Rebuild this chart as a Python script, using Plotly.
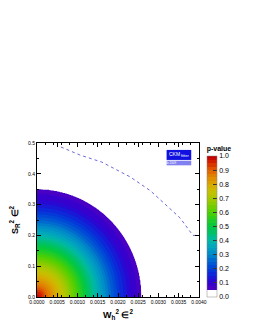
import numpy as np
import plotly.graph_objects as go

# Contour: quarter-ellipse p-value region (semi-axes)
x_semi = 0.00258
y_semi = 0.35
r_levels = [0.0, 0.05, 0.1, 0.2, 0.3, 0.4, 0.5, 0.6, 0.7, 0.8, 0.9, 1.0, 1.005]
p_levels = [1.0, 0.95, 0.88, 0.78, 0.68, 0.57, 0.46, 0.36, 0.26, 0.17, 0.10, 0.055, 0.0]

# dotted boundary curve
curve_x = [0.00059, 0.00106, 0.00160, 0.00205, 0.00230, 0.00280, 0.00333, 0.00353, 0.00385, 0.00400]
curve_y = [0.487, 0.461, 0.438, 0.406, 0.390, 0.345, 0.282, 0.257, 0.200, 0.200]

x_ticks = [0.0, 0.0005, 0.0010, 0.0015, 0.0020, 0.0025, 0.0030, 0.0035, 0.0040]
y_ticks = [0.0, 0.1, 0.2, 0.3, 0.4, 0.5]
cb_ticks = [0.0, 0.1, 0.2, 0.3, 0.4, 0.5, 0.6, 0.7, 0.8, 0.9, 1.0]

gx = np.linspace(0, 0.004, 241)
gy = np.linspace(0, 0.5, 241)
XX, YY = np.meshgrid(gx, gy)
R = np.sqrt((XX / x_semi) ** 2 + (YY / y_semi) ** 2)
Z = np.interp(R, r_levels, p_levels)

colorscale = [
    [0.0, "#ffffff"], [0.049, "#ffffff"],
    [0.05, "#5000c0"], [0.1, "#3000d0"], [0.15, "#1020d8"], [0.2, "#0040d8"],
    [0.25, "#0060d0"], [0.3, "#0088c8"], [0.35, "#00a0c0"], [0.4, "#00b8a8"],
    [0.45, "#00c070"], [0.5, "#00c840"], [0.6, "#50d000"], [0.7, "#a8c800"],
    [0.75, "#c8c000"], [0.8, "#d8a800"], [0.85, "#e08800"], [0.9, "#e06000"],
    [0.95, "#d82800"], [1.0, "#c00000"],
]

FONT = "Liberation Sans"

fig = go.Figure()
fig.add_trace(go.Contour(
    x=gx, y=gy, z=Z, zmin=0, zmax=1,
    colorscale=colorscale,
    contours=dict(start=0.0, end=1.0, size=0.025, coloring="fill", showlines=False),
    line=dict(width=0),
    colorbar=dict(
        title=dict(text="<b>p-value</b>", side="top", font=dict(size=7, family=FONT, color="black")),
        tickvals=cb_ticks, ticktext=[f"{v:.1f}" for v in cb_ticks],
        tickfont=dict(size=7, family=FONT, color="black"),
        x=1.049, xanchor="left", xref="paper",
        y=0, yanchor="bottom", len=1.0, lenmode="fraction",
        thickness=10, outlinewidth=0.5, outlinecolor="#888",
        ticks="inside", ticklen=4, tickcolor="#333", xpad=0, ypad=0,
    ),
    hoverinfo="skip",
))
fig.add_trace(go.Scatter(
    x=curve_x, y=curve_y, mode="lines",
    line=dict(color="#6a6ad8", width=1, dash="dot"), showlegend=False,
))

axis_common = dict(
    showgrid=False, zeroline=False, showline=True, linecolor="black", linewidth=1,
    mirror="ticks", ticks="inside", ticklen=4, tickcolor="black",
    tickfont=dict(size=5, family=FONT, color="black"),
    minor=dict(ticks="inside", ticklen=2, tickcolor="black", nticks=5),
)
fig.update_xaxes(range=[0, 0.004], tickvals=x_ticks, ticktext=[f"{v:.4f}" for v in x_ticks],
                 title=dict(text="<b>W<sub>h</sub><sup>2</sup> ∈<sup>2</sup></b>",
                            font=dict(size=9, family=FONT, color="black"), standoff=7),
                 **axis_common)
fig.update_yaxes(range=[0, 0.5], tickvals=y_ticks, ticktext=[f"{v:.1f}" for v in y_ticks],
                 title=dict(text="<b>S<sub>R</sub><sup>2</sup> ∈<sup>2</sup></b>",
                            font=dict(size=9, family=FONT, color="black"), standoff=9),
                 **axis_common)

# CKMfitter logo approximation
fig.add_shape(type="rect", xref="paper", yref="paper", x0=0.80, x1=0.952, y0=0.89, y1=0.955,
              fillcolor="#1010e0", line=dict(width=0))
fig.add_shape(type="rect", xref="paper", yref="paper", x0=0.80, x1=0.952, y0=0.855, y1=0.885,
              fillcolor="#8080f0", line=dict(width=0))
fig.add_annotation(xref="paper", yref="paper", x=0.805, y=0.958, text="CKM", showarrow=False,
                   font=dict(size=5, color="white", family=FONT), xanchor="left", yanchor="top")
fig.add_annotation(xref="paper", yref="paper", x=0.95, y=0.888, text="fitter", showarrow=False,
                   font=dict(size=4, color="white", family=FONT), xanchor="right", yanchor="bottom")
fig.add_annotation(xref="paper", yref="paper", x=0.876, y=0.870, text="LHCb 2009", showarrow=False,
                   font=dict(size=3, color="white", family=FONT), yanchor="middle")

fig.update_layout(
    width=245, height=319,
    margin=dict(l=29, r=54, t=135, b=30, autoexpand=False),
    paper_bgcolor="white", plot_bgcolor="white",
    font=dict(family=FONT, color="black"),
    showlegend=False,
)
fig.write_html("out.html")
